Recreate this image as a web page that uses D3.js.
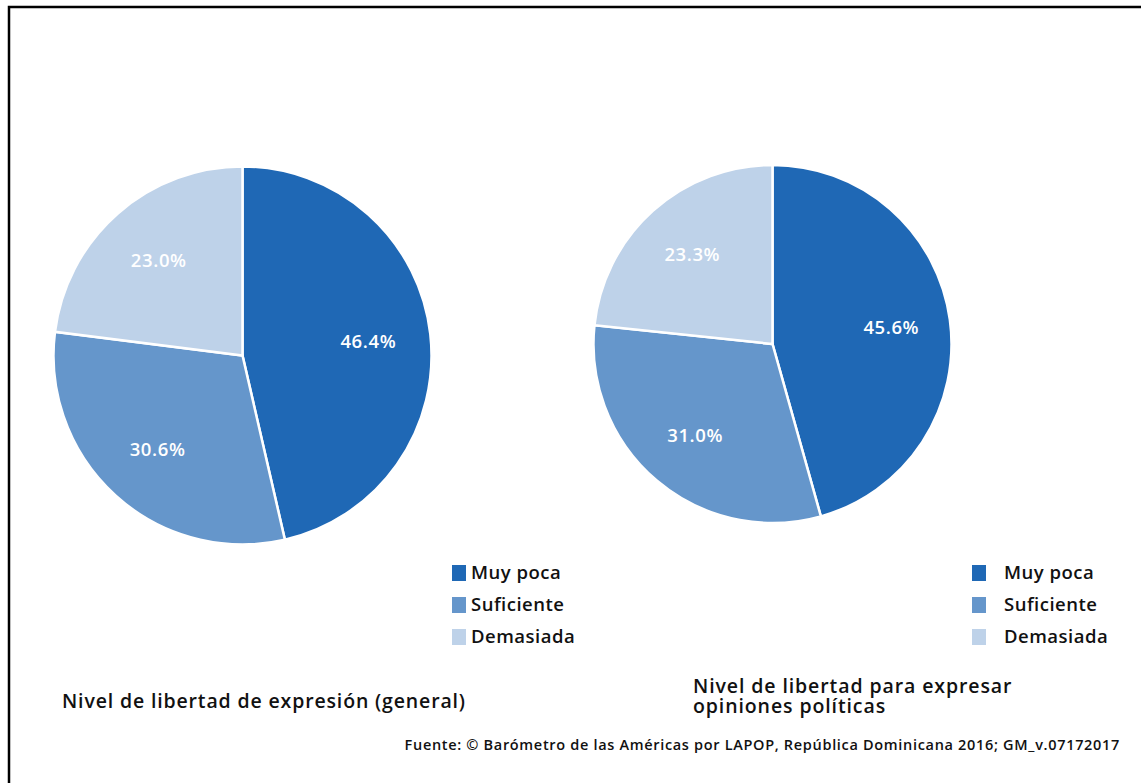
<!DOCTYPE html>
<html>
<head>
<meta charset="utf-8">
<script src="https://cdn.jsdelivr.net/npm/d3@7"></script>
<style>
  html, body { margin: 0; padding: 0; background: #fff; }
  svg { display: block; font-family: "Open Sans", "Noto Sans", sans-serif; }
</style>
</head>
<body>
<svg id="chart" width="1141" height="783"></svg>
<script>
// Response categories and shares (%) for each question
const categories = ["Muy poca", "Suficiente", "Demasiada"];
const generalValues = [46.4, 30.6, 23.0];
const politicalValues = [45.6, 31.0, 23.3];
const colors = ["#1f68b5", "#6596cb", "#bed2e9"];
const titleGeneral = ["Nivel de libertad de expresión (general)"];
const titlePolitical = ["Nivel de libertad para expresar", "opiniones políticas"];
const sourceText = "Fuente: © Barómetro de las Américas por LAPOP, República Dominicana 2016; GM_v.07172017";

const svg = d3.select("#chart");

// frame
svg.append("rect")
  .attr("x", 9).attr("y", 7)
  .attr("width", 1150).attr("height", 800)
  .attr("fill", "none").attr("stroke", "#000").attr("stroke-width", 2.5);

const color = d3.scaleOrdinal().domain(categories).range(colors);

function drawPie(values, cx, cy, r, legendX, legendTextX, title, titleX, titleY, titleSize, titleSpacing, lineGap) {
  const data = categories.map((c, i) => ({ cat: c, value: values[i] }));
  const pie = d3.pie().value(d => d.value).sort(null);
  const arc = d3.arc().innerRadius(0).outerRadius(r);
  const labelArc = d3.arc().innerRadius(r * 0.67).outerRadius(r * 0.67);

  const g = svg.append("g").attr("transform", `translate(${cx},${cy})`);
  const arcs = pie(data);

  g.selectAll("path")
    .data(arcs)
    .join("path")
    .attr("d", arc)
    .attr("fill", d => color(d.data.cat))
    .attr("stroke", "#fff")
    .attr("stroke-width", 2.5);

  g.selectAll("text")
    .data(arcs)
    .join("text")
    .attr("transform", d => `translate(${labelArc.centroid(d)})`)
    .attr("text-anchor", "middle")
    .attr("dy", "0.35em")
    .attr("fill", "#fff")
    .attr("font-size", 18.5)
    .attr("letter-spacing", 0.6)
    .attr("font-weight", 600)
    .text(d => d.data.value.toFixed(1) + "%");

  // legend
  const lg = svg.append("g");
  const rows = lg.selectAll("g")
    .data(categories)
    .join("g")
    .attr("transform", (d, i) => `translate(0,${573 + i * 32})`);
  rows.append("rect")
    .attr("x", legendX).attr("y", -8)
    .attr("width", 14).attr("height", 16)
    .attr("fill", d => color(d));
  rows.append("text")
    .attr("x", legendTextX).attr("y", 0)
    .attr("dy", "0.35em")
    .attr("font-size", 18.5)
    .attr("letter-spacing", 0.5)
    .attr("font-weight", 600)
    .attr("fill", "#111")
    .text(d => d);

  // title, one text element per line
  title.forEach((line, i) => {
    svg.append("text")
      .attr("x", titleX).attr("y", titleY + i * lineGap)
      .attr("font-size", titleSize)
      .attr("letter-spacing", titleSpacing)
      .attr("font-weight", 600)
      .attr("fill", "#111")
      .text(line);
  });
}

drawPie(generalValues, 242.5, 355.5, 189, 452, 471, titleGeneral, 62, 708, 19.5, 0.85, 0);
drawPie(politicalValues, 772.5, 344, 179, 972, 1004, titlePolitical, 693, 693, 19.5, 0.9, 20);

svg.append("text")
  .attr("x", 1120).attr("y", 750)
  .attr("text-anchor", "end")
  .attr("font-size", 14.5)
  .attr("letter-spacing", 0.68)
  .attr("font-weight", 600)
  .attr("fill", "#111")
  .text(sourceText);
</script>
</body>
</html>
